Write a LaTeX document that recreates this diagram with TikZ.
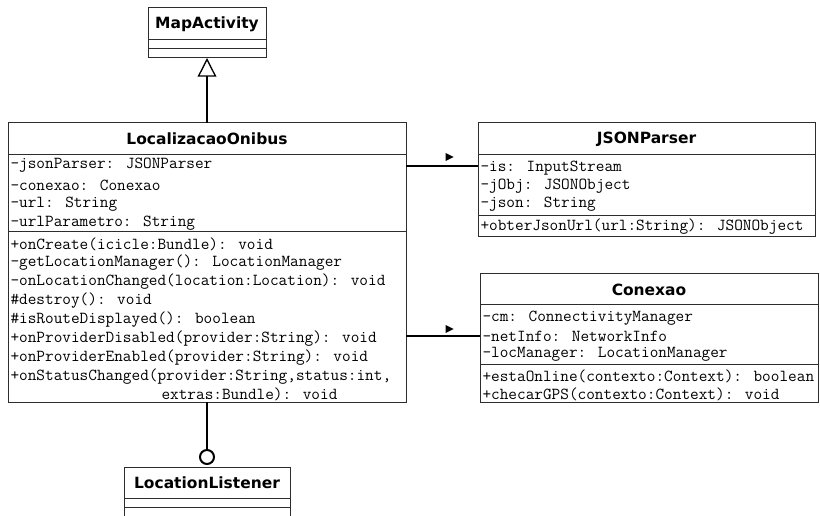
\documentclass[tikz,border=0pt]{standalone}
\usepackage{fontspec}
\usetikzlibrary{arrows.meta,fit}
\newfontfamily\umlsans{DejaVu Sans}

\tikzset{every picture/.style={line width=0.75pt}}
\tikzset{
	classbox/.style={draw={rgb, 255:red, 45; green, 45; blue, 45}, inner sep=0pt, outer sep=0pt},
	classname/.style={font=\umlsans\bfseries\fontsize{11.6}{13}\selectfont, inner sep=0pt},
	member/.style={font=\ttfamily\fontsize{12.6}{14}\selectfont, anchor=west, inner sep=0pt},
	sepline/.style={draw={rgb, 255:red, 45; green, 45; blue, 45}},
	link/.style={line width=1.5pt},
	navtip/.style={fill=black, draw=none},
}

\begin{document}
\begin{tikzpicture}[x=0.75pt,y=0.75pt,yscale=-1,xscale=1]
	\useasboundingbox (0,0) rectangle (820,516);

	%Class: MapActivity
	\node [classbox, fit={(148,8) (266,58)}] (map) {};
	\draw [sepline] (148,40) -- (266,40) ;
	\draw [sepline] (148,49) -- (266,49) ;
	% Text Node
	\node [classname] (mapname) at (207,24) {MapActivity};

	%Class: LocalizacaoOnibus
	\node [classbox, fit={(8,123) (406,402)}] (loc) {};
	\draw [sepline] (8,155) -- (406,155) ;
	\draw [sepline] (8,232) -- (406,232) ;
	% Text Node
	\node [classname] (locname) at (207,139) {LocalizacaoOnibus};
	% Text Node
	\node [member] (loca1) at (10,165) {-jsonParser: JSONParser};
	\node [member] (loca2) at (10,185) {-conexao: Conexao};
	\node [member] (loca3) at (10,204) {-url: String};
	\node [member] (loca4) at (10,223) {-urlParametro: String};
	% Text Node
	\node [member] (locm1) at (10,244) {+onCreate(icicle:Bundle): void};
	\node [member] (locm2) at (10,263) {-getLocationManager(): LocationManager};
	\node [member] (locm3) at (10,282) {-onLocationChanged(location:Location): void};
	\node [member] (locm4) at (10,301) {\#destroy(): void};
	\node [member] (locm5) at (10,320) {\#isRouteDisplayed(): boolean};
	\node [member] (locm6) at (10,339) {+onProviderDisabled(provider:String): void};
	\node [member] (locm7) at (10,358) {+onProviderEnabled(provider:String): void};
	\node [member] (locm8) at (10,377) {+onStatusChanged(provider:String,status:int,};
	\node [member] (locm9) at (161,394) {extras:Bundle): void};

	%Class: JSONParser
	\node [classbox, fit={(478,123) (815,237)}] (json) {};
	\draw [sepline] (478,155) -- (815,155) ;
	\draw [sepline] (478,216) -- (815,216) ;
	% Text Node
	\node [classname] (jsonname) at (646.5,139) {JSONParser};
	\node [member] (jsona1) at (480,168) {-is: InputStream};
	\node [member] (jsona2) at (480,186) {-jObj: JSONObject};
	\node [member] (jsona3) at (480,204) {-json: String};
	\node [member] (jsonm1) at (480,227) {+obterJsonUrl(url:String): JSONObject};

	%Class: Conexao
	\node [classbox, fit={(480,274) (818,402)}] (con) {};
	\draw [sepline] (480,305) -- (818,305) ;
	\draw [sepline] (480,364) -- (818,364) ;
	% Text Node
	\node [classname] (conname) at (649,290) {Conexao};
	\node [member] (cona1) at (482,318) {-cm: ConnectivityManager};
	\node [member] (cona2) at (482,336) {-netInfo: NetworkInfo};
	\node [member] (cona3) at (482,354) {-locManager: LocationManager};
	\node [member] (conm1) at (482,376) {+estaOnline(contexto:Context): boolean};
	\node [member] (conm2) at (482,394) {+checarGPS(contexto:Context): void};

	%Interface: LocationListener
	\node [classbox, fit={(124,467) (290,516)}] (lis) {};
	\draw [sepline] (124,498) -- (290,498) ;
	\draw [sepline] (124,507) -- (290,507) ;
	% Text Node
	\node [classname] (lisname) at (207,482.5) {LocationListener};
	\node [draw, link, circle, minimum size=10.5pt, inner sep=0pt, fill=white] (lol) at (207,457) {};

	%Connectors
	\draw [link, -{Triangle[open, length=14pt, width=14pt, line width=1pt]}] (loc.north) -- (map.south) ;
	\coordinate (jsonlink) at (440,166);
	\draw [link] (loc.east |- jsonlink) -- (json.west |- jsonlink) ;
	\coordinate (conlink) at (440,336);
	\draw [link] (loc.east |- conlink) -- (con.west |- conlink) ;
	\draw [link] (loc.south) -- (lol.north) ;
	% navigability marks
	\draw [navtip] (445.5,153) -- (453.5,157) -- (445.5,161) -- cycle ;
	\draw [navtip] (445.5,325) -- (453.5,329) -- (445.5,333) -- cycle ;

\end{tikzpicture}
\end{document}
